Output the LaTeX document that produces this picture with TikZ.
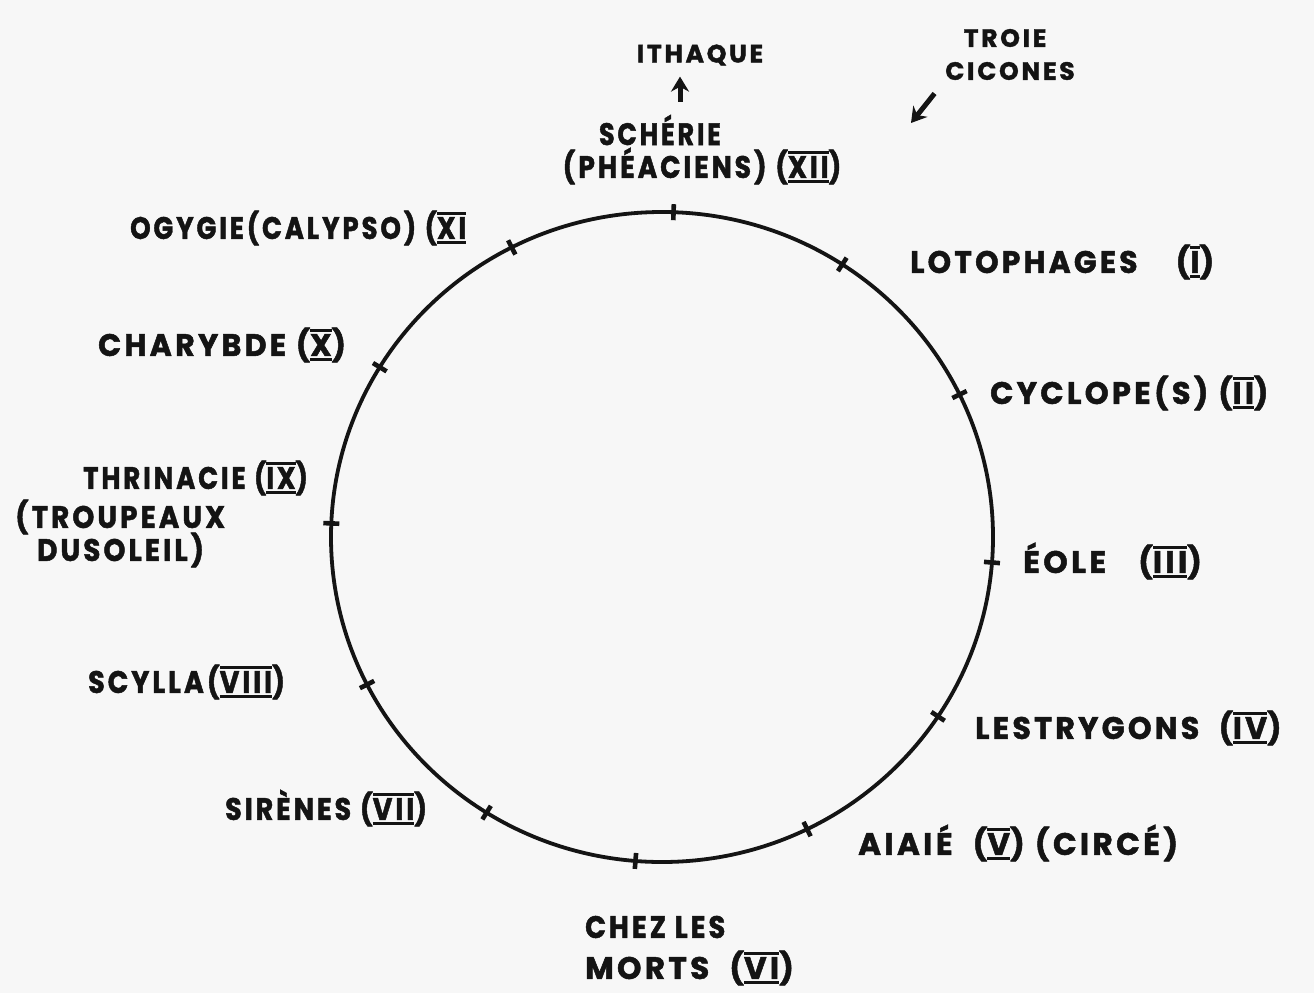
\documentclass[tikz,border=0pt]{standalone}
\usepackage{fontspec}
\usepackage{graphicx}
\setmainfont{Poppins}[LetterSpace=11, BoldFeatures={FakeBold=1.6}]
\usetikzlibrary{arrows.meta}
\definecolor{ink}{HTML}{141414}
\definecolor{paper}{HTML}{F7F7F7}
\newcommand{\rom}[1]{\setbox0\hbox{#1}\rlap{\rule[\dimexpr\ht0+2pt\relax]{\wd0}{3.6pt}}\rlap{\rule[-5.5pt]{\wd0}{3.6pt}}\box0}
\newcommand{\sx}[2]{\scalebox{#1}[1]{#2}}
\tikzset{
  lbl/.style={font=\fontsize{31}{36}\selectfont\bfseries, text=ink, inner sep=0pt},
  small/.style={font=\fontsize{25}{30}\selectfont\bfseries},
  ring/.style={draw=ink, line width=3.8pt},
  tickmark/.style={draw=ink, line width=4.6pt},
  arr/.style={draw=ink, line width=5pt, -{Stealth[length=15pt,width=18pt]}},
}
\begin{document}
\begin{tikzpicture}[x=1pt,y=-1pt]
\fill[paper] (0,0) rectangle (1314,993);
\useasboundingbox (0,0) rectangle (1314,993);
% circle
\coordinate (c) at (662,537);
\draw[ring] (c) ellipse [x radius=331, y radius=325];
\foreach \a in {88,57,26,-4.5,-33.5,-64,-94.6,-122,-153,177.6,148.5,117}{
  \draw[tickmark] ({662+323*cos(\a)},{537-317*sin(\a)}) -- ({662+339*cos(\a)},{537-333*sin(\a)});
}
% labels
\node[lbl,small] (ith) at (700,55) {ITHAQUE};
\node[lbl] (sch) at (660,130) {\sx{0.82}{SCHÉRIE}};
\node[lbl] (phe) at (702,166) {\sx{0.86}{(PHÉACIENS) (\rom{XII})}};
\node[lbl,small] (troie) at (1005,38) {TROIE};
\node[lbl,small] (cic) at (1010,71) {CICONES};
\coordinate (cicend) at (911,123);
\draw[arr, shorten <=17pt] (cic.south west) -- (cicend);
\draw[arr, shorten <=13pt, shorten >=11pt] ([xshift=20pt]sch.north) -- ([xshift=-20pt]ith.south);

\node[lbl, anchor=west] (ogy) at (130,228) {\sx{0.84}{OGYGIE(CALYPSO) (\rom{XI}}};
\node[lbl, anchor=west] (lot) at (910,262) {\sx{0.96}{LOTOPHAGES}\hspace{38pt}(\rom{I})};
\node[lbl, anchor=west] (cha) at (98,345) {\sx{0.97}{CHARYBDE (\rom{X})}};
\node[lbl, anchor=west] (cyc) at (990,393) {\sx{0.98}{CYCLOPE(S) (\rom{II})}};
\node[lbl, anchor=west] (thr) at (83,478) {\sx{0.84}{THRINACIE (\rom{IX})}};
\node[lbl, anchor=west] (trou) at (15,517) {\sx{0.9}{(TROUPEAUX}};
\node[lbl, anchor=west] (dus) at (37,550) {\sx{0.9}{DUSOLEIL)}};
\node[lbl, anchor=west] (eol) at (1023,561) {ÉOLE\hspace{32pt}(\rom{III})};
\node[lbl, anchor=west] (scy) at (88,682) {\sx{0.87}{SCYLLA(\rom{VIII})}};
\node[lbl, anchor=west] (les) at (975,728) {\sx{0.97}{LESTRYGONS\ \ (\rom{IV})}};
\node[lbl, anchor=west] (sir) at (225,808) {\sx{0.87}{SIRÈNES (\rom{VII})}};
\node[lbl, anchor=west] (aia) at (858,843) {AIAIÉ\hspace{20pt}(\rom{V}) (CIRCÉ)};
\node[lbl, anchor=west] (chez) at (585,927) {\sx{0.88}{CHEZ LES}};
\node[lbl, anchor=west] (mor) at (585,968) {MORTS\ \ (\rom{VI})};
\end{tikzpicture}
\end{document}
